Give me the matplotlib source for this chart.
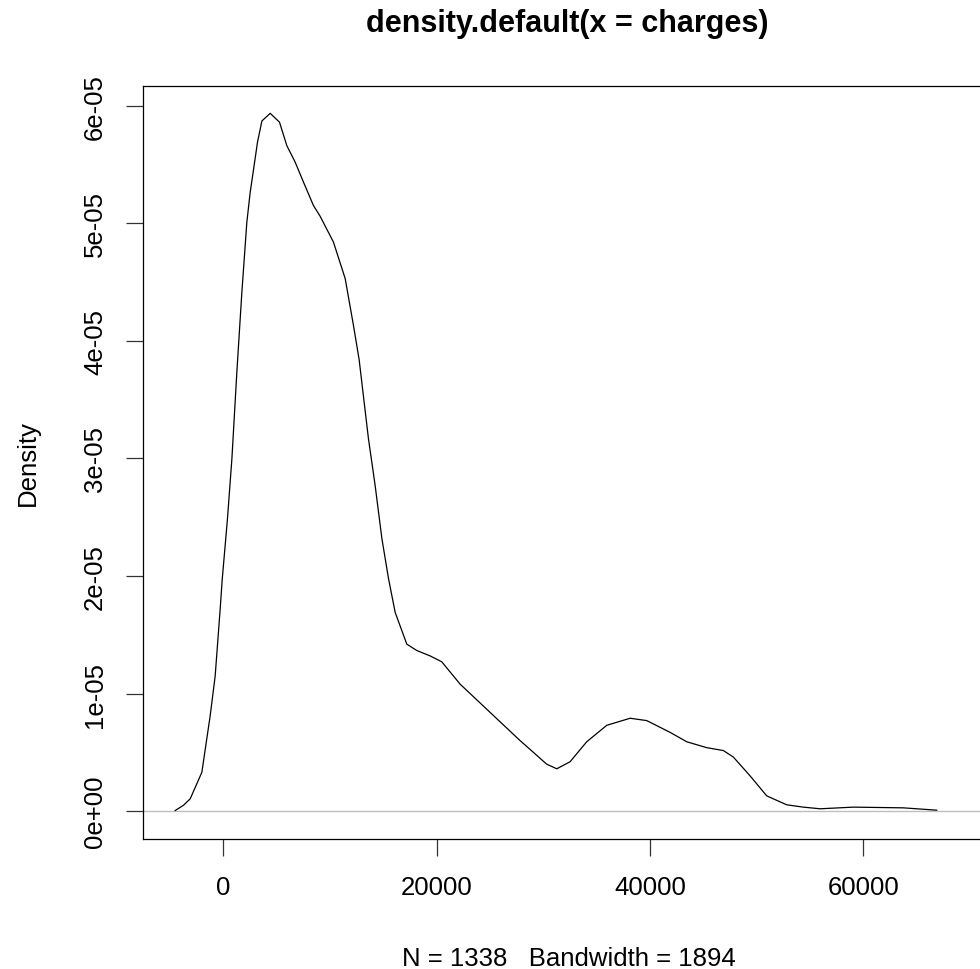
import numpy as np
import matplotlib.pyplot as plt

plt.rcParams['font.family'] = ['Liberation Sans', 'DejaVu Sans']

# density estimate of charges (y in units of 1e-5)
charges = [-4530, -3750, -3120, -2030, -1250, -780, -310, -120, 375, 790,
           1250, 1720, 2190, 2500, 3190, 3600, 4380, 5250, 5940, 6720,
           7500, 8440, 9060, 10310, 11410, 12190, 12720, 13590, 14220, 14850,
           15470, 16100, 17190, 18130, 19380, 20470, 22190, 25000, 27810, 29060,
           30300, 31250, 32500, 34060, 35940, 38130, 39690, 41880, 43440, 45310,
           46880, 47810, 49380, 50940, 52810, 54380, 55940, 59060, 63750, 66880]
dens = [0.005, 0.05, 0.105, 0.33, 0.81, 1.15, 1.72, 1.97, 2.49, 3.0,
        3.73, 4.41, 5.01, 5.26, 5.69, 5.87, 5.935, 5.86, 5.66, 5.52,
        5.35, 5.15, 5.06, 4.84, 4.53, 4.13, 3.84, 3.17, 2.77, 2.32,
        1.98, 1.69, 1.42, 1.366, 1.32, 1.27, 1.08, 0.84, 0.60, 0.50,
        0.40, 0.36, 0.42, 0.59, 0.73, 0.79, 0.77, 0.67, 0.59, 0.54,
        0.515, 0.46, 0.30, 0.13, 0.054, 0.034, 0.02, 0.034, 0.028, 0.008]
xticks = [0, 20000, 40000, 60000]
yticks = [0, 1e-5, 2e-5, 3e-5, 4e-5, 5e-5, 6e-5]
ylabels = ["0e+00", "1e-05", "2e-05", "3e-05", "4e-05", "5e-05", "6e-05"]

W, H = 980, 970
fig = plt.figure(figsize=(W / 100, H / 100), dpi=100)
# plot box runs past the right edge of the picture, like the cropped original
ax = fig.add_axes([143.3 / W, 1 - 840 / H, 852.4 / W, 753.3 / H])

x = np.array(charges)
y = np.array(dens) * 1e-5
ax.axhline(0, color="#BEBEBE", lw=1.0, zorder=1)
ax.plot(x, y, color="black", lw=0.9, zorder=2)

ax.set_xlim(-7520, 72412)
ax.set_ylim(-2.37e-6, 6.17e-5)
ax.set_xticks(xticks)
ax.set_xticklabels([str(t) for t in xticks])
ax.set_yticks(yticks)
ax.set_yticklabels(ylabels, rotation=90, va="center")
ax.tick_params(axis="both", labelsize=18.5, length=12, width=0.9, color="#333333")
ax.tick_params(axis="x", pad=14)
ax.tick_params(axis="y", pad=14)
for s in ax.spines.values():
    s.set_linewidth(0.9)
    s.set_color("black")

fig.text(567 / W, 1 - 32 / H, "density.default(x = charges)", ha="center",
         va="baseline", fontsize=22, fontweight="bold")
fig.text(569 / W, 1 - 966 / H, "N = 1338   Bandwidth = 1894", ha="center",
         va="baseline", fontsize=18.5)
fig.text(28 / W, 1 - 463 / H, "Density", ha="center", va="center",
         rotation=90, fontsize=18.5)

fig.savefig("out.png", dpi=100)
